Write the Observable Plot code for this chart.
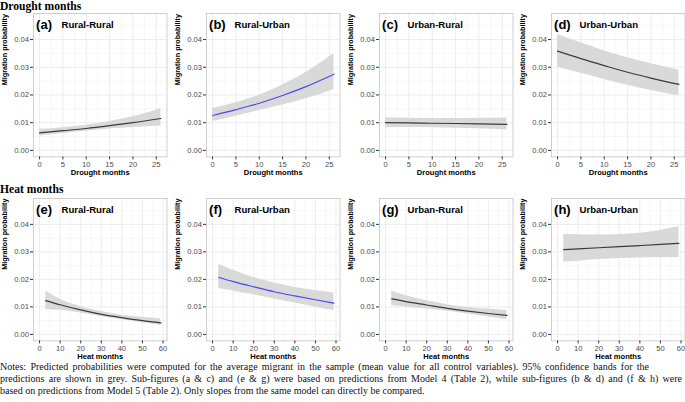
<!DOCTYPE html>
<html><head><meta charset="utf-8">
<script src="https://cdn.jsdelivr.net/npm/d3@7"></script>
<script src="https://cdn.jsdelivr.net/npm/@observablehq/plot@0.6"></script>
<style>
html,body{margin:0;padding:0;background:#fff;}
#wrap{position:relative;width:685px;height:402px;overflow:hidden;background:#fff;}
.hdr{position:absolute;left:0;font-family:'Liberation Serif','Times New Roman',serif;font-weight:bold;font-size:11.6px;line-height:13px;color:#000;white-space:nowrap;}
#notes{position:absolute;left:0;top:360.5px;font-family:'Liberation Serif','Times New Roman',serif;font-size:10px;line-height:12.4px;color:#111;}
#notes .nl{display:block;text-align:justify;text-align-last:justify;}
#notes .last{display:block;white-space:nowrap;}
</style></head><body>
<div id="wrap">
<div class="hdr" style="top:0px">Drought months</div>
<div class="hdr" style="top:183px">Heat months</div>
<div id="notes"><span class="nl" style="width:649px">Notes: Predicted probabilities were computed for the average migrant in the sample (mean value for all control variables). 95% confidence bands for the</span><span class="nl" style="width:682px">predictions are shown in grey. Sub-figures (a &amp; c) and (e &amp; g) were based on predictions from Model 4 (Table 2), while sub-figures (b &amp; d) and (f &amp; h) were</span><span class="last">based on predictions from Model 5 (Table 2). Only slopes from the same model can directly be compared.</span></div>
</div>
<script>
// ---------- data ----------
const droughtMonths = [0, 5, 10, 15, 20, 26];
const heatMonths = [3, 10, 20, 30, 40, 50, 59];
const droughtTicks = [0, 5, 10, 15, 20, 25];
const heatTicks = [0, 10, 20, 30, 40, 50, 60];
const probTicks = [0, 0.01, 0.02, 0.03, 0.04];

// (a) Rural-Rural, drought
const aFit   = [0.0063, 0.0071, 0.0079, 0.0089, 0.0100, 0.0115];
const aLower = [0.0052, 0.0061, 0.0069, 0.0077, 0.0083, 0.0088];
const aUpper = [0.0076, 0.0082, 0.0091, 0.0104, 0.0121, 0.0150];
// (b) Rural-Urban, drought
const bFit   = [0.0126, 0.0147, 0.0170, 0.0198, 0.0230, 0.0275];
const bLower = [0.0104, 0.0123, 0.0144, 0.0164, 0.0186, 0.0220];
const bUpper = [0.0151, 0.0172, 0.0199, 0.0236, 0.0281, 0.0350];
// (c) Urban-Rural, drought
const cFit   = [0.0100, 0.0099, 0.0098, 0.0097, 0.0096, 0.0094];
const cLower = [0.0082, 0.0083, 0.0082, 0.0080, 0.0078, 0.0074];
const cUpper = [0.0118, 0.0116, 0.0115, 0.0115, 0.0116, 0.0117];
// (d) Urban-Urban, drought
const dFit   = [0.0358, 0.0331, 0.0306, 0.0282, 0.0261, 0.0238];
const dLower = [0.0301, 0.0278, 0.0256, 0.0235, 0.0216, 0.0197];
const dUpper = [0.0418, 0.0388, 0.0359, 0.0334, 0.0313, 0.0289];
// (e) Rural-Rural, heat
const eFit   = [0.0123, 0.0108, 0.0089, 0.0073, 0.0061, 0.0050, 0.0042];
const eLower = [0.0090, 0.0088, 0.0078, 0.0065, 0.0053, 0.0042, 0.0033];
const eUpper = [0.0158, 0.0128, 0.0101, 0.0083, 0.0070, 0.0062, 0.0056];
// (f) Rural-Urban, heat
const fFit   = [0.0207, 0.0192, 0.0173, 0.0155, 0.0140, 0.0126, 0.0114];
const fLower = [0.0167, 0.0158, 0.0144, 0.0129, 0.0114, 0.0099, 0.0087];
const fUpper = [0.0255, 0.0233, 0.0207, 0.0187, 0.0171, 0.0160, 0.0151];
// (g) Urban-Rural, heat
const gFit   = [0.0129, 0.0119, 0.0107, 0.0095, 0.0085, 0.0076, 0.0069];
const gLower = [0.0104, 0.0100, 0.0092, 0.0084, 0.0074, 0.0063, 0.0053];
const gUpper = [0.0157, 0.0141, 0.0122, 0.0108, 0.0098, 0.0092, 0.0087];
// (h) Urban-Urban, heat
const hFit   = [0.0308, 0.0311, 0.0315, 0.0319, 0.0323, 0.0327, 0.0331];
const hLower = [0.0263, 0.0266, 0.0272, 0.0276, 0.0278, 0.0279, 0.0280];
const hUpper = [0.0364, 0.0362, 0.0361, 0.0363, 0.0368, 0.0378, 0.0392];

const GREY = "#3a3a3a", BLUE = "#4a4af0";
const panels = [
  {tag: "(a)", name: "Rural-Rural", row: 0, col: 0, fit: aFit, lower: aLower, upper: aUpper, color: GREY},
  {tag: "(b)", name: "Rural-Urban", row: 0, col: 1, fit: bFit, lower: bLower, upper: bUpper, color: BLUE},
  {tag: "(c)", name: "Urban-Rural", row: 0, col: 2, fit: cFit, lower: cLower, upper: cUpper, color: GREY},
  {tag: "(d)", name: "Urban-Urban", row: 0, col: 3, fit: dFit, lower: dLower, upper: dUpper, color: GREY},
  {tag: "(e)", name: "Rural-Rural", row: 1, col: 0, fit: eFit, lower: eLower, upper: eUpper, color: GREY},
  {tag: "(f)", name: "Rural-Urban", row: 1, col: 1, fit: fFit, lower: fLower, upper: fUpper, color: BLUE},
  {tag: "(g)", name: "Urban-Rural", row: 1, col: 2, fit: gFit, lower: gLower, upper: gUpper, color: GREY},
  {tag: "(h)", name: "Urban-Urban", row: 1, col: 3, fit: hFit, lower: hLower, upper: hUpper, color: GREY}
];

const rows = [
  {x: droughtMonths, domain: [-1.3, 27.3], ticks: droughtTicks, minor: [2.5, 7.5, 12.5, 17.5, 22.5], title: "Drought months"},
  {x: heatMonths, domain: [-2.95, 61.95], ticks: heatTicks, minor: [5, 15, 25, 35, 45, 55], title: "Heat months"}
];
const probMinor = [0.005, 0.015, 0.025, 0.035, 0.045];

// ---------- layout ----------
const colLeft = [33.3, 206, 379.3, 550.6];
const frameW = 133.5;
const rowTop = [13.3, 198.3];
const frameH = [143.4, 142.4];
const ML = 34, MR = 2, MT = 2, MB = 30;

const wrap = document.getElementById("wrap");
const FONT = "'Liberation Sans', Arial, Helvetica, sans-serif";

for (const p of panels) {
  const r = rows[p.row];
  const data = r.x.map((x, i) => ({x, fit: p.fit[i], lo: p.lower[i], hi: p.upper[i]}));
  const svg = Plot.plot({
    width: frameW + ML + MR,
    height: frameH[p.row] + MT + MB,
    marginLeft: ML, marginRight: MR, marginTop: MT, marginBottom: MB,
    style: {background: "transparent", fontFamily: FONT, fontSize: "7.6px", color: "#4d4d4d", overflow: "visible"},
    x: {domain: r.domain},
    y: {domain: [-0.00235, 0.0494]},
    marks: [
      Plot.gridX(r.minor, {stroke: "#f2f2f2", strokeOpacity: 1, strokeWidth: 0.6}),
      Plot.gridY(probMinor, {stroke: "#f2f2f2", strokeOpacity: 1, strokeWidth: 0.6}),
      Plot.gridX(r.ticks, {stroke: "#e8e8e8", strokeOpacity: 1, strokeWidth: 0.8}),
      Plot.gridY(probTicks, {stroke: "#e8e8e8", strokeOpacity: 1, strokeWidth: 0.8}),
      Plot.areaY(data, {x: "x", y1: "lo", y2: "hi", fill: "#d9d9d9", curve: "monotone-x"}),
      Plot.lineY(data, {x: "x", y: "fit", stroke: p.color, strokeWidth: 1.2, curve: "monotone-x"}),
      Plot.frame({stroke: "#c4c4c4", strokeWidth: 0.8}),
      Plot.axisX({ticks: r.ticks, tickSize: 3, tickPadding: 1.5, label: null, stroke: "#333", fill: "#4d4d4d"}),
      Plot.axisY({ticks: probTicks, tickSize: 3, tickPadding: 1.5, label: null, tickFormat: d3.format(".2f"), stroke: "#333", fill: "#4d4d4d"}),
      Plot.text([r.title], {text: d => d, frameAnchor: "bottom", dy: 15.8, lineAnchor: "middle", fontSize: 7.6, fontWeight: "bold", fill: "#000"}),
      Plot.text(["Migration probability"], {text: d => d, frameAnchor: "left", dx: -28.6, rotate: -90, lineAnchor: "middle", fontSize: 7.2, fontWeight: "bold", fill: "#000"}),
      Plot.text([p.tag], {text: d => d, frameAnchor: "top-left", dx: 2.6, dy: 11, textAnchor: "start", lineAnchor: "middle", fontSize: 13, fontWeight: "bold", fill: "#000"}),
      Plot.text([p.name], {text: d => d, frameAnchor: "top-left", dx: 28, dy: 11.3, textAnchor: "start", lineAnchor: "middle", fontSize: 9.6, fontWeight: "bold", fill: "#000"})
    ]
  });
  svg.style.position = "absolute";
  svg.style.left = (colLeft[p.col] - ML) + "px";
  svg.style.top = (rowTop[p.row] - MT) + "px";
  wrap.appendChild(svg);
}
</script>
</body></html>
